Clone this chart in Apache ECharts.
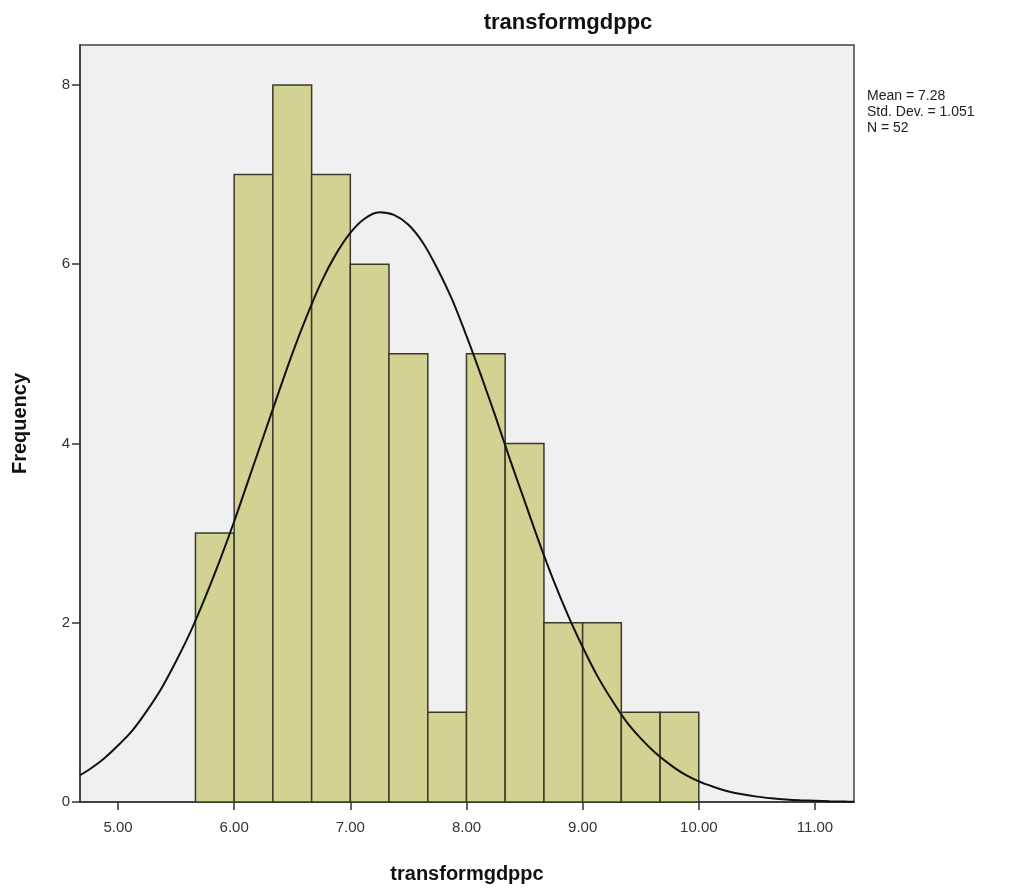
<!DOCTYPE html>
<html><head><meta charset="utf-8">
<script src="https://cdn.jsdelivr.net/npm/echarts@6/dist/echarts.min.js"></script>
<style>html,body{margin:0;padding:0;background:#fff}#c{width:1025px;height:892px}</style>
</head><body><div id="c"></div>
<script>
// Histogram bins: [start, end]
const binStarts = [5.667, 6.0, 6.333, 6.667, 7.0, 7.333, 7.667, 8.0, 8.333, 8.667, 9.0, 9.333, 9.667];
const binEnds   = [6.0, 6.333, 6.667, 7.0, 7.333, 7.667, 8.0, 8.333, 8.667, 9.0, 9.333, 9.667, 10.0];
const frequencies = [3, 7, 8, 7, 6, 5, 1, 5, 4, 2, 2, 1, 1];
// Normal curve
const curveX = [4.673, 4.75, 4.875, 5.0, 5.125, 5.25, 5.375, 5.5, 5.625, 5.75, 5.875, 6.0, 6.125, 6.25, 6.375, 6.5, 6.625, 6.75, 6.875, 7.0, 7.125, 7.25, 7.375, 7.5, 7.625, 7.75, 7.875, 8.0, 8.125, 8.25, 8.375, 8.5, 8.625, 8.75, 8.875, 9.0, 9.125, 9.25, 9.375, 9.5, 9.625, 9.75, 9.875, 10.0, 10.125, 10.25, 10.375, 10.5, 10.625, 10.75, 10.875, 11.0, 11.125, 11.25, 11.336];
const curveY = [0.30, 0.36, 0.48, 0.63, 0.80, 1.02, 1.27, 1.57, 1.90, 2.28, 2.69, 3.13, 3.60, 4.07, 4.54, 5.00, 5.42, 5.80, 6.11, 6.35, 6.51, 6.58, 6.55, 6.44, 6.24, 5.95, 5.61, 5.20, 4.76, 4.30, 3.82, 3.36, 2.90, 2.47, 2.08, 1.73, 1.41, 1.14, 0.90, 0.71, 0.55, 0.42, 0.31, 0.23, 0.17, 0.12, 0.086, 0.060, 0.042, 0.028, 0.019, 0.013, 0.008, 0.005, 0.003];
const xTickValues = [5, 6, 7, 8, 9, 10, 11];
const yTickValues = [0, 2, 4, 6, 8];
const statsLines = ['Mean = 7.28', 'Std. Dev. = 1.051', 'N = 52'];
const titleText = 'transformgdppc';
const xName = 'transformgdppc';
const yName = 'Frequency';

const font = '"Liberation Sans", Arial, sans-serif';
const chart = echarts.init(document.getElementById('c'));
const barData = binStarts.map((s, i) => [s, binEnds[i], frequencies[i]]);
chart.setOption({
  animation: false,
  backgroundColor: '#ffffff',
  title: {
    text: titleText, left: 563, top: 7, textAlign: 'center',
    textStyle: { fontFamily: font, fontSize: 22, fontWeight: 'bold', color: '#111' }
  },
  graphic: [{
    type: 'text', left: 867, top: 88,
    style: { text: statsLines.join('\n'), fontFamily: font, fontSize: 14, lineHeight: 16, fill: '#222' }
  }],
  grid: {
    left: 80, top: 45, right: 171, bottom: 90, show: true,
    backgroundColor: '#f0f0f0', borderColor: '#444', borderWidth: 1.5
  },
  xAxis: {
    type: 'value', min: 4.673, max: 11.336,
    name: xName, nameLocation: 'middle', nameGap: 62,
    nameTextStyle: { fontFamily: font, fontSize: 20, fontWeight: 'bold', color: '#111' },
    splitLine: { show: false },
    axisLine: { show: true, onZero: false, lineStyle: { color: '#333', width: 1.5 } },
    axisTick: { show: true, customValues: xTickValues, length: 8, inside: false, lineStyle: { color: '#333', width: 1.5 } },
    axisLabel: { customValues: xTickValues, formatter: v => v.toFixed(2), fontFamily: font, fontSize: 15, color: '#333', margin: 18 }
  },
  yAxis: {
    type: 'value', min: 0, max: 8.446,
    name: yName, nameLocation: 'middle', nameGap: 50, nameRotate: 90,
    nameTextStyle: { fontFamily: font, fontSize: 20, fontWeight: 'bold', color: '#111' },
    splitLine: { show: false },
    axisLine: { show: true, lineStyle: { color: '#333', width: 1.5 } },
    axisTick: { show: true, customValues: yTickValues, length: 8, inside: false, lineStyle: { color: '#333', width: 1.5 } },
    axisLabel: { customValues: yTickValues, fontFamily: font, fontSize: 15, color: '#333', margin: 10 }
  },
  series: [{
    type: 'custom',
    data: barData,
    encode: { x: [0, 1], y: 2 },
    renderItem: function (params, api) {
      const p0 = api.coord([api.value(0), api.value(2)]);
      const p1 = api.coord([api.value(1), 0]);
      return {
        type: 'rect',
        shape: { x: p0[0], y: p0[1], width: p1[0] - p0[0], height: p1[1] - p0[1] },
        style: { fill: '#d2d293', stroke: '#3a3a2a', lineWidth: 1.5 }
      };
    },
    z: 2
  }, {
    type: 'line',
    data: curveX.map((x, i) => [x, curveY[i]]),
    smooth: 0.3, showSymbol: false, symbol: 'none',
    lineStyle: { color: '#111', width: 2 },
    z: 3
  }]
});
</script></body></html>
